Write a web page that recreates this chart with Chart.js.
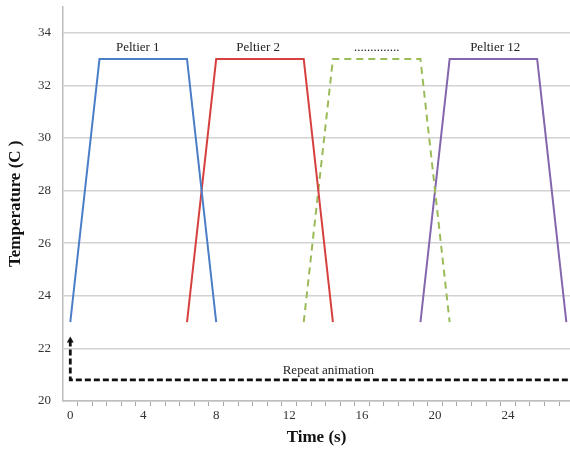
<!DOCTYPE html>
<html>
<head>
<meta charset="utf-8">
<script src="https://cdn.jsdelivr.net/npm/chart.js@4"></script>
<style>
  body { margin: 0; background: #fff; }
  #wrap { width: 570px; height: 449px; }
</style>
</head>
<body>
<div id="wrap"><canvas id="myChart" width="570" height="449"></canvas></div>
<script>
// ramp profile shared by every peltier
let rampTemps = [23, 33, 33, 23];
let peltier1Times = [0, 1.6, 6.4, 8.0];
let peltier2Times = [6.4, 8.0, 12.8, 14.4];
let peltierMidTimes = [12.8, 14.4, 19.2, 20.8];
let peltier12Times = [19.2, 20.8, 25.6, 27.2];

// "repeat animation" arrow: up at t=0, then back along the bottom
let repeatTimes = [0, 0, 27.4];
let repeatTemps = [22.3, 20.8, 20.8];

let xTickLabels = [0, 4, 8, 12, 16, 20, 24];
let yTickLabels = [20, 22, 24, 26, 28, 30, 32, 34];

let noteTexts = ['Peltier 1', 'Peltier 2', '..............', 'Peltier 12', 'Repeat animation'];
let noteTimes = [3.7, 10.3, 16.8, 23.3, 14.15];
let noteTemps = [33.45, 33.45, 33.45, 33.45, 21.15];

const toPoints = (xs, ys) => xs.map((x, i) => ({x: x, y: ys[i]}));

// minor tick marks sit between the 0.8 s steps
const minorTicks = [];
for (let k = 0; k < 34; k++) minorTicks.push(Math.round((0.4 + 0.8 * k) * 10) / 10);

const noPadding = (scale) => {
    scale.paddingTop = 0;
    scale.paddingBottom = 0;
    scale.paddingLeft = 0;
    scale.paddingRight = 0;
};

const notesPlugin = {
    id: 'notes',
    afterDatasetsDraw(chart) {
        const {ctx, scales} = chart;
        ctx.save();
        ctx.font = '13px "Liberation Serif", serif';
        ctx.fillStyle = '#222';
        ctx.textAlign = 'center';
        ctx.textBaseline = 'middle';
        noteTexts.forEach((t, i) => {
            ctx.fillText(t, scales.x.getPixelForValue(noteTimes[i]), scales.y.getPixelForValue(noteTemps[i]));
        });
        ctx.restore();
    }
};

Chart.defaults.font.family = '"Liberation Serif", "Times New Roman", serif';

const buildChart = () => {
    const ctx = document.getElementById('myChart');

    new Chart(ctx, {
        type: 'line',
        data: {
            datasets: [{
                label: 'Peltier 1',
                borderColor: '#4a7fc8',
                data: toPoints(peltier1Times, rampTemps)
            },
            {
                label: 'Peltier 2',
                borderColor: '#d6403f',
                data: toPoints(peltier2Times, rampTemps)
            },
            {
                label: '...',
                borderColor: '#9bbb59',
                borderDash: [7, 5],
                data: toPoints(peltierMidTimes, rampTemps)
            },
            {
                label: 'Peltier 12',
                borderColor: '#8466ad',
                data: toPoints(peltier12Times, rampTemps)
            },
            {
                label: 'Repeat animation',
                borderColor: '#111',
                borderWidth: 2.8,
                borderDash: [6, 3],
                pointStyle: 'triangle',
                pointRadius: [4, 0, 0],
                pointBackgroundColor: '#111',
                pointBorderColor: '#111',
                pointBorderWidth: 0,
                data: toPoints(repeatTimes, repeatTemps)
            }]
        },
        options: {
            responsive: false,
            animation: false,
            layout: {autoPadding: false, padding: {top: 6.5, right: 0, left: 0, bottom: 0}},
            elements: {
                line: {borderWidth: 2, tension: 0, fill: false},
                point: {radius: 0}
            },
            plugins: {
                legend: {display: false},
                tooltip: {enabled: false}
            },
            scales: {
                x: {
                    type: 'linear',
                    min: -0.4,
                    max: 27.4,
                    afterBuildTicks: (scale) => {
                        scale.ticks = xTickLabels.concat(minorTicks)
                            .sort((a, b) => a - b)
                            .map(v => ({value: v}));
                    },
                    afterFit: (scale) => { scale.height = 48; noPadding(scale); },
                    ticks: {
                        autoSkip: false,
                        maxRotation: 0,
                        padding: 2,
                        color: '#333',
                        font: {size: 13},
                        callback: (v) => xTickLabels.includes(v) ? String(v) : ''
                    },
                    grid: {
                        drawOnChartArea: false,
                        tickLength: 5,
                        tickWidth: 1,
                        tickColor: (c) => (c.tick && xTickLabels.includes(c.tick.value)) ? 'rgba(0,0,0,0)' : '#a8a8a8'
                    },
                    border: {color: '#bdbdbd', width: 1.5},
                    title: {
                        display: true,
                        text: 'Time (s)',
                        color: '#111',
                        font: {size: 17, weight: 'bold'},
                        padding: {top: 0, bottom: 1}
                    }
                },
                y: {
                    min: 20,
                    max: 35,
                    afterBuildTicks: (scale) => {
                        scale.ticks = yTickLabels.map(v => ({value: v}));
                    },
                    afterFit: (scale) => { scale.width = 63; noPadding(scale); },
                    ticks: {
                        padding: 12,
                        color: '#333',
                        font: {size: 13}
                    },
                    grid: {
                        color: '#d2d2d2',
                        lineWidth: 1.5,
                        drawTicks: false
                    },
                    border: {color: '#bdbdbd', width: 1.5},
                    title: {
                        display: true,
                        text: 'Temperature (C )',
                        color: '#111',
                        font: {size: 17, weight: 'bold'},
                        padding: {top: 5, bottom: 0}
                    }
                }
            }
        },
        plugins: [notesPlugin]
    });
};

buildChart();
</script>
</body>
</html>
